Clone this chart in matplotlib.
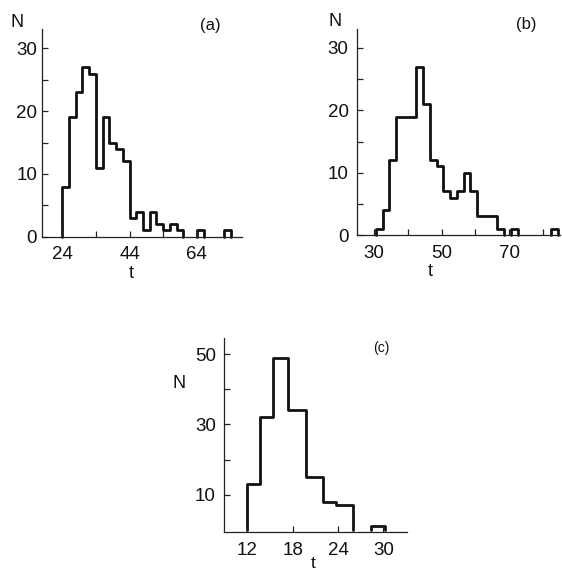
import numpy as np
import matplotlib
matplotlib.use("Agg")
import matplotlib.pyplot as plt

plt.rcParams['font.family'] = ['Liberation Sans', 'DejaVu Sans']

# ---- data -------------------------------------------------------------
# (a) bin edges in t and counts N
edges_a = [24, 26, 28, 30, 32, 34, 36, 38, 40, 42, 44, 46, 48, 50, 52, 54,
           56, 58, 60, 62, 64, 66, 68, 70, 72, 74]
counts_a = [8, 19, 23, 27, 26, 11, 19, 15, 14, 12, 3, 4, 1, 4, 2, 1,
            2, 1, 0, 0, 1, 0, 0, 0, 1]

# (b)
edges_b = [30.5, 32.5, 34.5, 36.5, 38.5, 40.5, 42.5, 44.5, 46.5, 48.5, 50.5,
           52.5, 54.5, 56.5, 58.5, 60.5, 62.5, 64.5, 66.5, 68.5, 70.5, 72.5,
           74.5, 76.5, 78.5, 80.5, 82.5, 84.5]
counts_b = [1, 4, 12, 19, 19, 19, 27, 21, 12, 11, 7, 6, 7, 10, 7, 3, 3, 3,
            1, 0, 1, 0, 0, 0, 0, 0, 1]

# (c)
edges_c = [12, 13.7, 15.4, 17.4, 19.8, 22, 23.8, 26, 28.4, 30.2]
counts_c = [13, 32, 49, 34, 15, 8, 7, 0, 1]

xticks_a, xlabels_a = [24, 34, 44, 54, 64], ['24', '', '44', '', '64']
yticks_a, ylabels_a = [0, 5, 10, 15, 20, 25, 30], ['0', '', '10', '', '20', '', '30']
xticks_b, xlabels_b = [30, 40, 50, 60, 70, 80], ['30', '', '50', '', '70', '']
yticks_b, ylabels_b = [0, 5, 10, 15, 20, 25, 30], ['0', '', '10', '', '20', '', '30']
xticks_c, xlabels_c = [12, 18, 24, 30], ['12', '18', '24', '30']
yticks_c, ylabels_c = [10, 20, 30, 40, 50], ['10', '', '30', '', '50']

# ---- figure -----------------------------------------------------------
W, H = 562, 573
fig = plt.figure(figsize=(W / 100, H / 100), dpi=100)
fig.patch.set_facecolor('white')


def box(left, top, right, bottom):
    return [left / W, 1 - bottom / H, (right - left) / W, (bottom - top) / H]


def fxy(x, y):
    return x / W, 1 - y / H


def draw_hist(ax, edges, counts):
    edges = np.asarray(edges, float)
    counts = np.asarray(counts, float)
    nz = counts > 0
    i = 0
    n = len(counts)
    while i < n:
        if nz[i]:
            j = i
            while j < n and nz[j]:
                j += 1
            ax.stairs(counts[i:j], edges[i:j + 1], baseline=0, color='#111111',
                      linewidth=2.0, joinstyle='round', capstyle='round',
                      clip_on=False)
            i = j
        else:
            i += 1


def style(ax, xlim, ylim, xt, xl, yt, yl, ypad):
    ax.set_xlim(*xlim)
    ax.set_ylim(*ylim)
    for s in ('top', 'right'):
        ax.spines[s].set_visible(False)
    for s in ('left', 'bottom'):
        ax.spines[s].set_linewidth(0.9)
        ax.spines[s].set_color('#222222')
    ax.set_xticks(xt)
    ax.set_xticklabels(xl)
    ax.set_yticks(yt)
    ax.set_yticklabels(yl)
    ax.tick_params(axis='both', direction='in', length=4.5, width=0.9,
                   color='#222222', labelsize=13.5, labelcolor='#111111')
    ax.tick_params(axis='x', pad=7)
    ax.tick_params(axis='y', pad=ypad)


ax_a = fig.add_axes(box(42, 29, 242, 236.7))
draw_hist(ax_a, edges_a, counts_a)
style(ax_a, (18.0, 77.4), (0, 33.1), xticks_a, xlabels_a, yticks_a, ylabels_a, 3.5)

ax_b = fig.add_axes(box(356.7, 29.3, 560, 235))
draw_hist(ax_b, edges_b, counts_b)
style(ax_b, (24.8, 85.1), (0, 33.0), xticks_b, xlabels_b, yticks_b, ylabels_b, 5.8)

ax_c = fig.add_axes(box(224, 338, 406.7, 532))
draw_hist(ax_c, edges_c, counts_c)
style(ax_c, (8.9, 33.1), (-0.7, 54.7), xticks_c, xlabels_c, yticks_c, ylabels_c, 5.8)

# axis names and panel tags
txt = dict(ha='center', va='center', color='#111111')
fig.text(*fxy(16.7, 22.5), 'N', fontsize=13, **txt)
fig.text(*fxy(210.5, 25.8), '(a)', fontsize=12, **txt)
fig.text(*fxy(131.7, 273.5), 't', fontsize=13, **txt)

fig.text(*fxy(335, 21), 'N', fontsize=13, **txt)
fig.text(*fxy(526.7, 25), '(b)', fontsize=12, **txt)
fig.text(*fxy(430, 271.7), 't', fontsize=13, **txt)

fig.text(*fxy(179, 383.3), 'N', fontsize=13, **txt)
fig.text(*fxy(381.7, 348.3), '(c)', fontsize=10, **txt)
fig.text(*fxy(313, 563.5), 't', fontsize=12.5, **txt)

fig.savefig('out.png', dpi=100, facecolor='white')
